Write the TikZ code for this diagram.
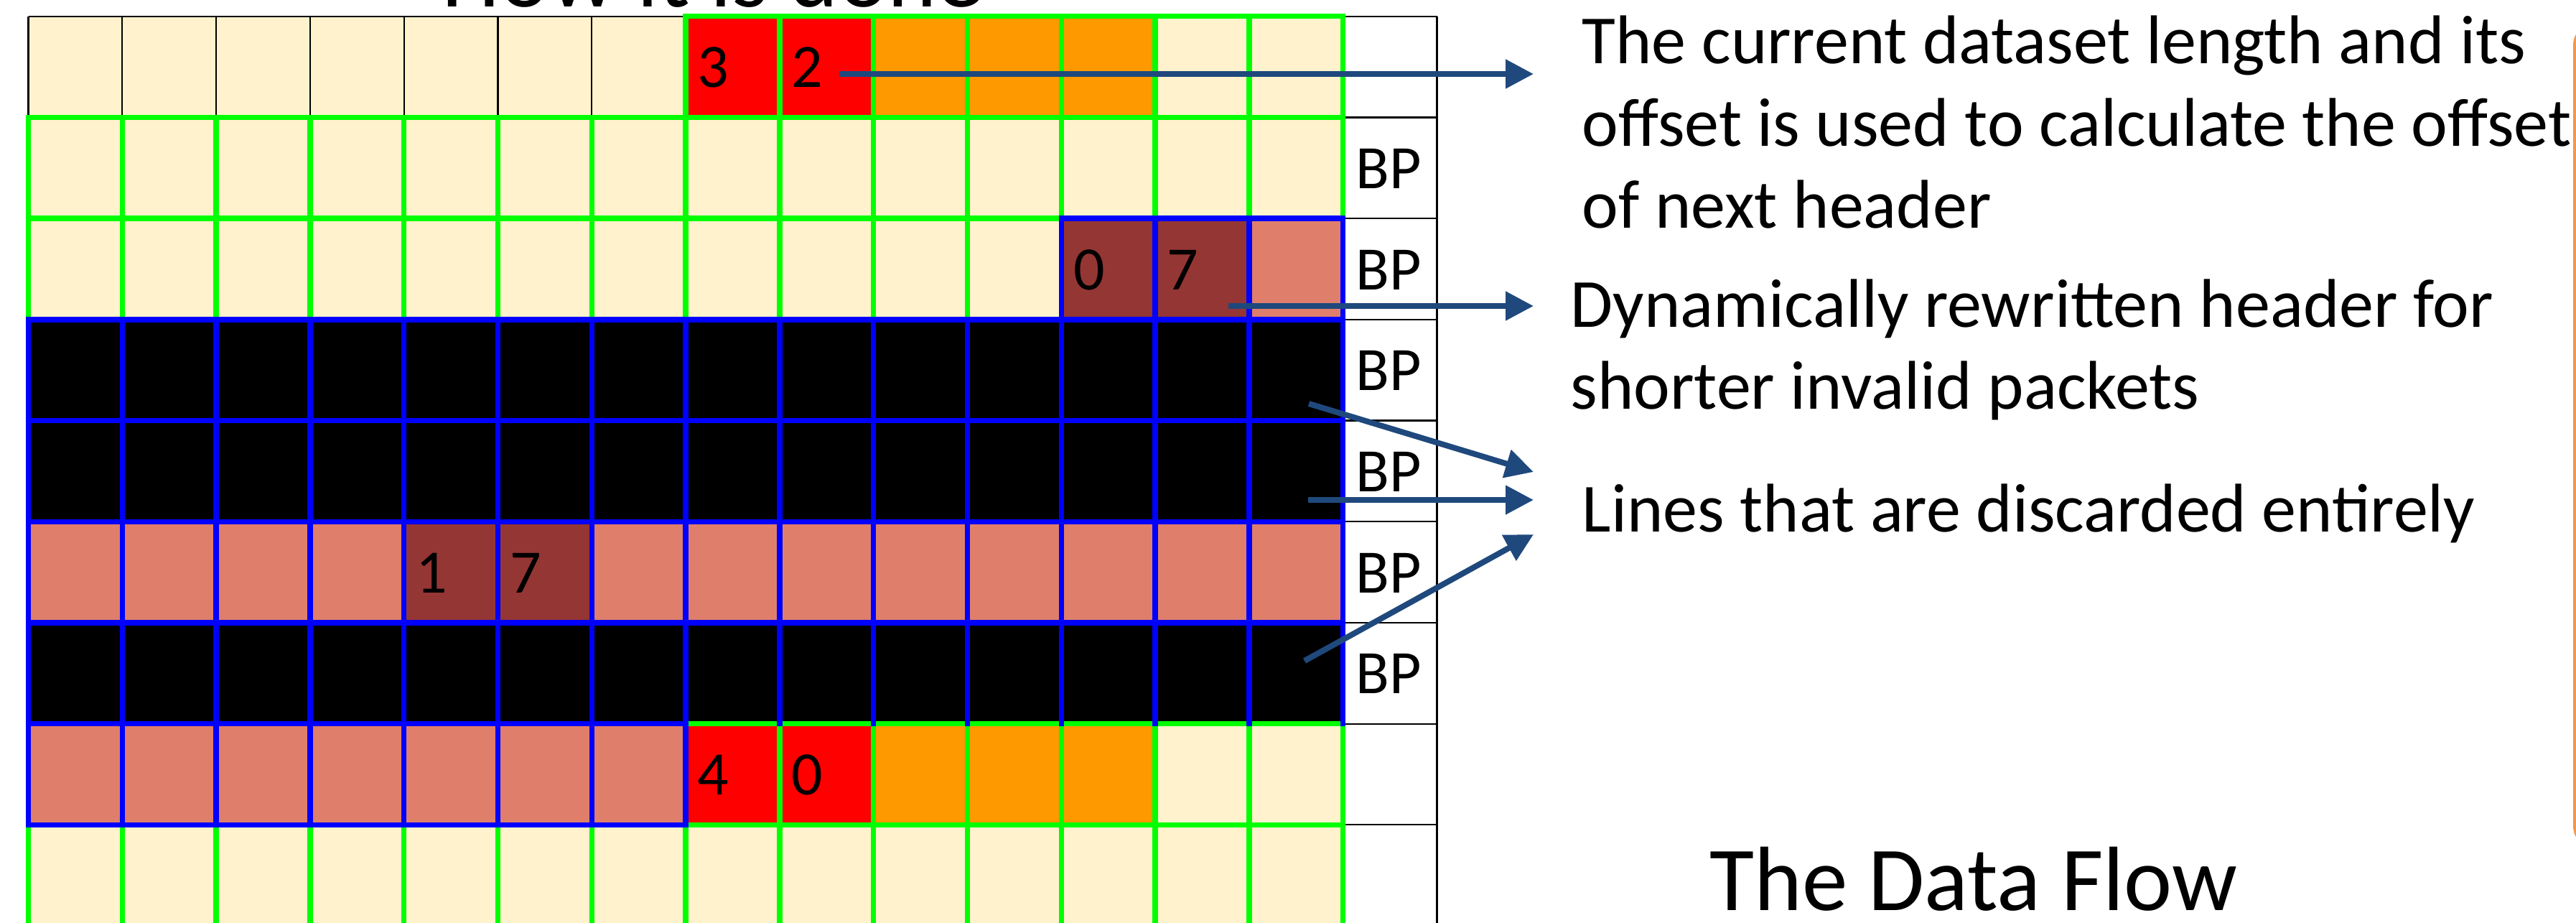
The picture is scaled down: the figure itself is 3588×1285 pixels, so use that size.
\documentclass[tikz,border=0pt]{standalone}
\usepackage{fontspec}
\setmainfont{Carlito}
\usetikzlibrary{arrows.meta}
\definecolor{cream}{HTML}{FFF2CC}
\definecolor{hdrred}{HTML}{FF0000}
\definecolor{dataorange}{HTML}{FF9900}
\definecolor{salmon}{HTML}{DF7E6B}
\definecolor{darkred}{HTML}{943634}
\definecolor{gridgreen}{HTML}{00FF00}
\definecolor{gridblue}{HTML}{0000FF}
\definecolor{arrowblue}{HTML}{1F497D}
\definecolor{frameorange}{HTML}{F79646}
\begin{document}
\begin{tikzpicture}[x=0.25pt,y=-0.25pt,
  declare function={gx(\i)=39.5+130.8*\i; gy(\j)=22.7+140.7*\j;},
  greenline/.style={draw=gridgreen,line width=1.85pt,line cap=rect},
  blueline/.style={draw=gridblue,line width=1.85pt,line cap=rect},
  thinline/.style={draw=black,line width=0.55pt},
  celltext/.style={anchor=base west,inner sep=0pt,font=\fontsize{21.5pt}{25pt}\selectfont},
  desctext/.style={anchor=base west,inner sep=0pt,font=\fontsize{24pt}{29pt}\selectfont},
  bigtext/.style={inner sep=0pt,font=\fontsize{32.5pt}{36pt}\selectfont},
  pointer/.style={draw=arrowblue,line width=2pt,-{Triangle[length=9.75pt,width=9.75pt]}},
]
\useasboundingbox[fill=white] (0,0) rectangle (3588,1285);

% ---- cell fills ----
\fill[cream] ({gx(0)},{gy(0)}) rectangle ({gx(14)},{gy(9)});
\fill[hdrred] ({gx(7)},{gy(0)}) rectangle ({gx(9)},{gy(1)});
\fill[dataorange] ({gx(9)},{gy(0)}) rectangle ({gx(12)},{gy(1)});
\fill[darkred] ({gx(11)},{gy(2)}) rectangle ({gx(13)},{gy(3)});
\fill[salmon] ({gx(13)},{gy(2)}) rectangle ({gx(14)},{gy(3)});
\fill[black] ({gx(0)},{gy(3)}) rectangle ({gx(14)},{gy(5)});
\fill[salmon] ({gx(0)},{gy(5)}) rectangle ({gx(14)},{gy(6)});
\fill[darkred] ({gx(4)},{gy(5)}) rectangle ({gx(6)},{gy(6)});
\fill[black] ({gx(0)},{gy(6)}) rectangle ({gx(14)},{gy(7)});
\fill[salmon] ({gx(0)},{gy(7)}) rectangle ({gx(7)},{gy(8)});
\fill[hdrred] ({gx(7)},{gy(7)}) rectangle ({gx(9)},{gy(8)});
\fill[dataorange] ({gx(9)},{gy(7)}) rectangle ({gx(12)},{gy(8)});

% ---- thin black lines ----
\draw[thinline] ({gx(0)},{gy(0)}) -- ({gx(15)},{gy(0)});
\foreach \i in {0,...,6} \draw[thinline] ({gx(\i)},{gy(0)}) -- ({gx(\i)},{gy(1)});
\draw[thinline] ({gx(15)},{gy(0)}) -- ({gx(15)},{gy(9)});
\foreach \j in {1,...,8} \draw[thinline] ({gx(14)},{gy(\j)}) -- ({gx(15)},{gy(\j)});

% ---- green grid ----
\draw[greenline] ({gx(7)},{gy(0)}) -- ({gx(14)},{gy(0)});
\foreach \i in {7,...,14} \draw[greenline] ({gx(\i)},{gy(0)}) -- ({gx(\i)},{gy(1)});
\draw[greenline] ({gx(0)},{gy(1)}) -- ({gx(14)},{gy(1)});
\foreach \i in {0,...,14} \draw[greenline] ({gx(\i)},{gy(1)}) -- ({gx(\i)},{gy(2)});
\draw[greenline] ({gx(0)},{gy(2)}) -- ({gx(11)},{gy(2)});
\foreach \i in {0,...,10} \draw[greenline] ({gx(\i)},{gy(2)}) -- ({gx(\i)},{gy(3)});
\draw[greenline] ({gx(7)},{gy(7)}) -- ({gx(14)},{gy(7)});
\foreach \i in {8,...,14} \draw[greenline] ({gx(\i)},{gy(7)}) -- ({gx(\i)},{gy(8)});
\draw[greenline] ({gx(7)},{gy(8)}) -- ({gx(14)},{gy(8)});
\foreach \i in {0,...,14} \draw[greenline] ({gx(\i)},{gy(8)}) -- ({gx(\i)},{gy(9)});

% ---- blue grid ----
\draw[blueline] ({gx(11)},{gy(2)}) -- ({gx(14)},{gy(2)});
\foreach \i in {11,...,14} \draw[blueline] ({gx(\i)},{gy(2)}) -- ({gx(\i)},{gy(3)});
\foreach \j in {3,...,6} \draw[blueline] ({gx(0)},{gy(\j)}) -- ({gx(14)},{gy(\j)});
\draw[blueline] ({gx(0)},{gy(7)}) -- ({gx(7)},{gy(7)});
\foreach \i in {0,...,14} \draw[blueline] ({gx(\i)},{gy(3)}) -- ({gx(\i)},{gy(7)});
\foreach \i in {0,...,7} \draw[blueline] ({gx(\i)},{gy(7)}) -- ({gx(\i)},{gy(8)});
\draw[blueline] ({gx(0)},{gy(8)}) -- ({gx(7)},{gy(8)});

% ---- cell texts ----
\node[celltext] (c3) at ({gx(7)+16},{gy(0)+99}) {3};
\node[celltext] (c2) at ({gx(8)+16},{gy(0)+99}) {2};
\node[celltext] (c0a) at ({gx(11)+16},{gy(2)+99}) {0};
\node[celltext] (c7a) at ({gx(12)+16},{gy(2)+99}) {7};
\node[celltext] (c1) at ({gx(4)+16},{gy(5)+99}) {1};
\node[celltext] (c7b) at ({gx(5)+16},{gy(5)+99}) {7};
\node[celltext] (c4) at ({gx(7)+16},{gy(7)+99}) {4};
\node[celltext] (c0b) at ({gx(8)+16},{gy(7)+99}) {0};
\foreach \j in {1,...,6} \node[celltext] (bp\j) at ({gx(14)+17},{gy(\j)+99}) {BP};

% ---- titles ----
\node[bigtext,anchor=base] (title) at (993,9) {How it is done};
\node[bigtext,anchor=base west,font=\fontsize{31.8pt}{36pt}\selectfont] (flow) at (2381,1267) {The Data Flow};

% ---- descriptions ----
\node[desctext] (d1a) at (2203,88) {The current dataset length and its};
\node[desctext] (d1b) at (2203,203) {offset is used to calculate the offset};
\node[desctext] (d1c) at (2203,317) {of next header};
\node[desctext] (d2a) at (2187,455) {Dynamically rewritten header for};
\node[desctext] (d2b) at (2187,569) {shorter invalid packets};
\node[desctext] (d3) at (2203,740) {Lines that are discarded entirely};

% ---- arrows ----
\coordinate (a1s) at (1169,103);  \coordinate (a1e) at (2136,103);
\coordinate (a2s) at (1711,426);  \coordinate (a2e) at (2136,426);
\coordinate (a3s) at (1823,562);  \coordinate (a3e) at (2136,657);
\coordinate (a4s) at (1822,696);  \coordinate (a4e) at (2136,696);
\coordinate (a5s) at (1817,920);  \coordinate (a5e) at (2136,744);
\draw[pointer] (a1s) -- (a1e);
\draw[pointer] (a2s) -- (a2e);
\draw[pointer] (a3s) -- (a3e);
\draw[pointer] (a4s) -- (a4e);
\draw[pointer] (a5s) -- (a5e);

% ---- frame edge at right ----
\draw[frameorange,line width=1pt,rounded corners=7.5pt] (3586,33) rectangle (3720,1180);
\end{tikzpicture}
\end{document}
